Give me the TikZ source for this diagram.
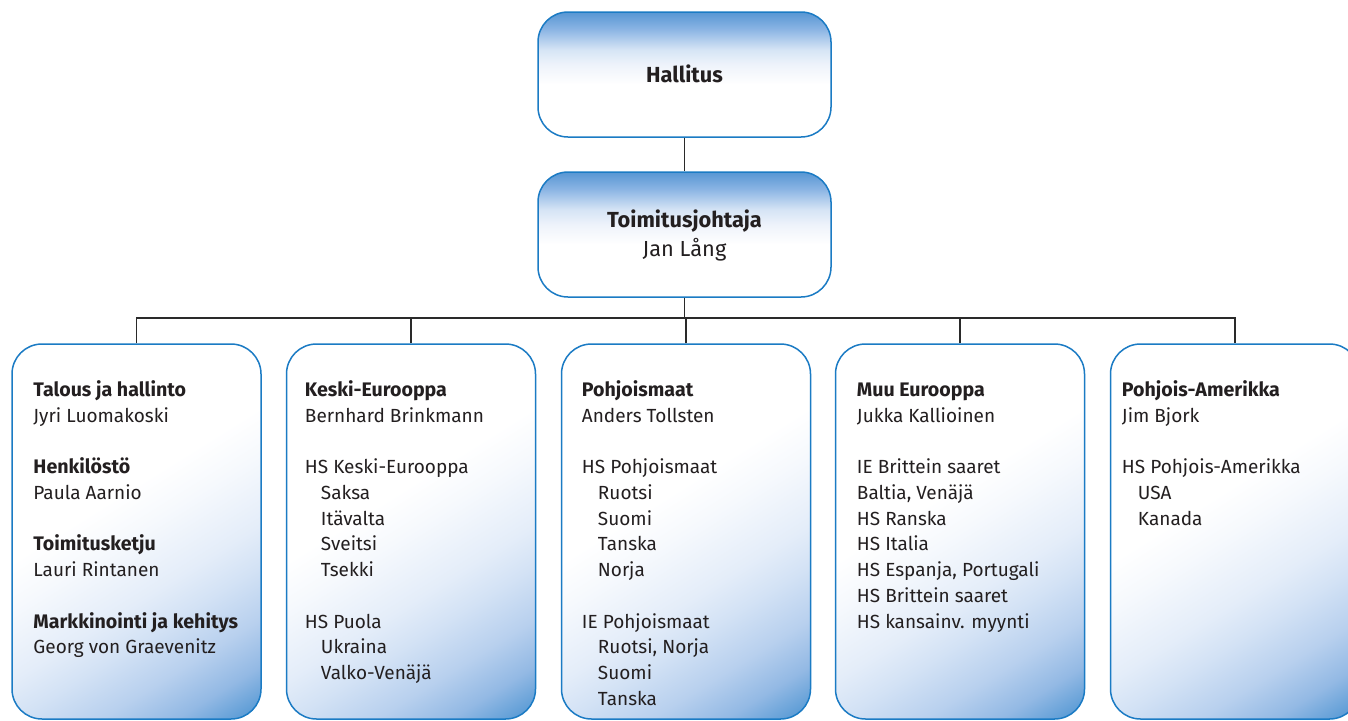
\documentclass[tikz,border=0pt]{standalone}
\usepackage{fontspec}
\setmainfont{Fira Sans}
\definecolor{bordc}{HTML}{1B7BC4}
\definecolor{lineC}{HTML}{2A2A2A}
\definecolor{txtC}{HTML}{231F20}
\definecolor{tA}{HTML}{EEF3FB}
\definecolor{tB}{HTML}{D5E4F5}
\definecolor{tC}{HTML}{8CB5E4}
\definecolor{tD}{HTML}{5796D3}
\definecolor{g1}{HTML}{F6F9FD}
\definecolor{g2}{HTML}{E4EDF9}
\definecolor{g3}{HTML}{D3E2F5}
\definecolor{g4}{HTML}{B8D0EE}
\definecolor{g5}{HTML}{93B9E4}
\definecolor{g6}{HTML}{5A9BD5}
\definecolor{g7}{HTML}{4A8FD0}
\pgfdeclareverticalshading{topshade}{100bp}{color(0bp)=(white); color(46bp)=(white); color(54bp)=(tA); color(60bp)=(tB); color(68bp)=(tC); color(75bp)=(tD); color(100bp)=(tD)}
\pgfdeclareverticalshading{lowshade}{100bp}{color(0bp)=(g7); color(25.5bp)=(g7); color(27.6bp)=(g6); color(31.25bp)=(g5); color(35.4bp)=(g4); color(40.1bp)=(g3); color(43.75bp)=(g2); color(50bp)=(g1); color(54.2bp)=(white); color(100bp)=(white)}
\newcommand{\ind}{\hspace*{16pt}}
\newcommand{\gapline}{\\[25.75pt]}
\newcommand{\bt}[1]{{\fontsize{19.6}{25.75}\selectfont\bfseries #1}}
\newcommand{\firstl}{\rule{0pt}{20pt}}
\begin{document}
\begin{tikzpicture}[x=1pt,y=-1pt,
  conn/.style={draw=lineC, line width=1.2pt},
  topbox/.style={draw=bordc, line width=1.5pt, rounded corners=30pt,
    minimum width=293pt, minimum height=125pt, inner sep=0pt,
    shade, shading=topshade},
  toptext/.style={anchor=north, align=center, inner sep=0pt, text=txtC,
    font=\fontsize{21.8}{29}\selectfont},
  lowbox/.style={draw=bordc, line width=1.5pt, rounded corners=30pt,
    minimum width=249pt, minimum height=375pt, inner sep=0pt,
    path picture={\begin{scope}[transform canvas={rotate around={32:(path picture bounding box.center)}}]
      \shade[shading=lowshade]
      ([shift={(-240pt,-240pt)}]path picture bounding box.center) rectangle
      ([shift={(240pt,240pt)}]path picture bounding box.center);
      \end{scope}}},
  boxtext/.style={anchor=north west, align=left, inner sep=0pt, text=txtC,
    font=\fontsize{19}{25.75}\selectfont}
]
\useasboundingbox (0,0) rectangle (1348,720);
\fill[white] (0,0) rectangle (1348,720);

% top boxes
\node[topbox] (hal) at (684.5,74.5) {};
\node[topbox] (ceo) at (684.5,234.5) {};
\node[toptext] (halt) at ([shift={(0pt,-51.3pt)}]hal.north) {\firstl\textbf{Hallitus}};
\node[toptext] (ceot) at ([shift={(0pt,-35.7pt)}]ceo.north) {\firstl\textbf{Toimitusjohtaja}\\Jan Lång};

% lower boxes
\node[lowbox] (b1) at (136.5,531.5) {};
\node[lowbox] (b2) at (411,531.5) {};
\node[lowbox] (b3) at (686,531.5) {};
\node[lowbox] (b4) at (960,531.5) {};
\node[lowbox] (b5) at (1235,531.5) {};

% connectors
\coordinate (bus) at (0,318);
\draw[conn] (hal.south) -- (ceo.north);
\draw[conn] (ceo.south) -- (ceo.south |- bus);
\draw[conn] (b1.north) -- (b1.north |- bus) -- (b5.north |- bus) -- (b5.north);
\draw[conn] (b2.north) -- (b2.north |- bus);
\draw[conn] (b3.north) -- (b3.north |- bus);
\draw[conn] (b4.north) -- (b4.north |- bus);

% texts (first baseline 52.8 below box top)
\node[boxtext] (t1) at ([shift={(22pt,-32.8pt)}]b1.north west)
  {\firstl\bt{Talous ja hallinto}\\Jyri Luomakoski\gapline
   \bt{Henkilöstö}\\Paula Aarnio\gapline
   \bt{Toimitusketju}\\Lauri Rintanen\gapline
   \bt{Markkinointi ja kehitys}\\Georg von Graevenitz};
\node[boxtext] (t2) at ([shift={(19pt,-32.8pt)}]b2.north west)
  {\firstl\bt{Keski-Eurooppa}\\Bernhard Brinkmann\gapline
   HS Keski-Eurooppa\\\ind Saksa\\\ind Itävalta\\\ind Sveitsi\\\ind Tsekki\gapline
   HS Puola\\\ind Ukraina\\\ind Valko-Venäjä};
\node[boxtext] (t3) at ([shift={(21pt,-32.8pt)}]b3.north west)
  {\firstl\bt{Pohjoismaat}\\Anders Tollsten\gapline
   HS Pohjoismaat\\\ind Ruotsi\\\ind Suomi\\\ind Tanska\\\ind Norja\gapline
   IE Pohjoismaat\\\ind Ruotsi, Norja\\\ind Suomi\\\ind Tanska};
\node[boxtext] (t4) at ([shift={(22pt,-32.8pt)}]b4.north west)
  {\firstl\bt{Muu Eurooppa}\\Jukka Kallioinen\gapline
   IE Brittein saaret\\Baltia, Venäjä\\HS Ranska\\HS Italia\\
   HS Espanja, Portugali\\HS Brittein saaret\\HS kansainv. myynti};
\node[boxtext] (t5) at ([shift={(12pt,-32.8pt)}]b5.north west)
  {\firstl\bt{Pohjois-Amerikka}\\Jim Bjork\gapline
   HS Pohjois-Amerikka\\\ind USA\\\ind Kanada};
\end{tikzpicture}
\end{document}
